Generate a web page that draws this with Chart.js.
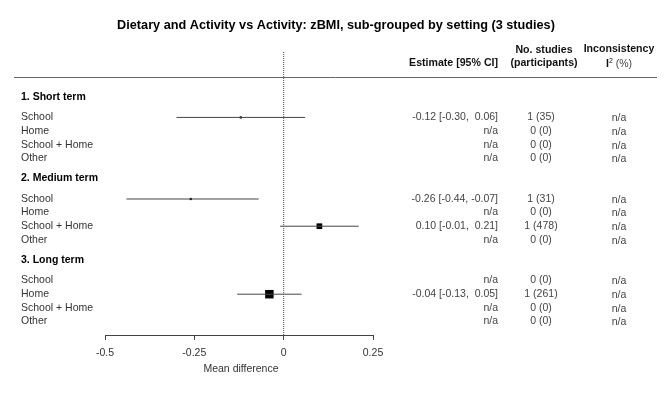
<!DOCTYPE html>
<html>
<head>
<meta charset="utf-8">
<script src="https://cdn.jsdelivr.net/npm/chart.js@4/dist/chart.umd.min.js"></script>
<style>
html,body{margin:0;padding:0;background:#fff;}
</style>
</head>
<body>
<canvas id="forest" width="672" height="399"></canvas>
<script>
const groups = ["1. Short term","2. Medium term","3. Long term"];
const settings = ["School","Home","School + Home","Other"];
// per group, per setting (null = no study)
const estimate = [[-0.12,null,null,null],[-0.26,null,0.10,null],[null,-0.04,null,null]];
const lower = [[-0.30,null,null,null],[-0.44,null,-0.01,null],[null,-0.13,null,null]];
const upper = [[0.06,null,null,null],[-0.07,null,0.21,null],[null,0.05,null,null]];
const studies = [[1,0,0,0],[1,0,1,0],[0,1,0,0]];
const participants = [[35,0,0,0],[31,0,478,0],[0,261,0,0]];
const xTicks = [-0.5,-0.25,0,0.25];

const FONT = '"Liberation Sans", Arial, sans-serif';

function headerRow(g){ return g*6; }
function dataRow(g,s){ return g*6 + 1.5 + s; }

function pad(v){
  return v < 0 ? v.toFixed(2) : " " + v.toFixed(2);
}

/* CI segments + squares */
let ciPoints = [];
let sqPoints = [];
let weights = [];
groups.forEach(function(gName,g){
  settings.forEach(function(sName,s){
    if(estimate[g][s] === null) return;
    let r = dataRow(g,s);
    ciPoints.push({x:lower[g][s],y:r},{x:upper[g][s],y:r},{x:0,y:null});
    let se = (upper[g][s]-lower[g][s])/3.92;
    weights.push(1/(se*se));
    sqPoints.push({x:estimate[g][s],y:r});
  });
});
let wMax = Math.max.apply(null,weights);
let sqRadius = weights.map(function(w){
  let side = Math.max(2.2, 8.5*w/wMax);
  return side/Math.SQRT2;
});

const yTop = -3.31, yBottom = 17.5;

const tablePlugin = {
  id:'table',
  afterDraw(chart){
    const ctx = chart.ctx;
    const ys = chart.scales.y;
    ctx.save();
    ctx.textBaseline = 'middle';

    // title
    ctx.fillStyle = '#000';
    ctx.font = 'bold 12.7px ' + FONT;
    ctx.textAlign = 'center';
    ctx.fillText("Dietary and Activity vs Activity: zBMI, sub-grouped by setting (3 studies)", 336, 25);

    // column headers
    ctx.font = 'bold 10.6px ' + FONT;
    ctx.fillStyle = '#111';
    ctx.textAlign = 'right';
    ctx.fillText("Estimate [95% CI]", 498, 63);
    ctx.textAlign = 'center';
    ctx.fillText("No. studies", 544, 50);
    ctx.fillText("(participants)", 544, 63);
    ctx.fillText("Inconsistency", 619, 49);
    // I² (%)
    ctx.textAlign = 'left';
    ctx.font = 'bold 10.6px ' + FONT;
    let iw = ctx.measureText("I").width;
    ctx.font = '7px ' + FONT;
    let sw = ctx.measureText("2").width;
    ctx.font = '10.5px ' + FONT;
    let pw = ctx.measureText(" (%)").width;
    let x0 = 619 - (iw+sw+pw)/2;
    ctx.font = 'bold 10.6px ' + FONT;
    ctx.fillText("I", x0, 64);
    ctx.font = '7px ' + FONT;
    ctx.fillText("2", x0+iw, 61);
    ctx.font = '10.5px ' + FONT;
    ctx.fillStyle = '#444';
    ctx.fillText(" (%)", x0+iw+sw, 64);

    // header rule
    ctx.strokeStyle = '#666';
    ctx.lineWidth = 1;
    ctx.beginPath();
    ctx.moveTo(14, 77.5);
    ctx.lineTo(657, 77.5);
    ctx.stroke();

    groups.forEach(function(gName,g){
      ctx.textAlign = 'left';
      ctx.fillStyle = '#000';
      ctx.font = 'bold 10.5px ' + FONT;
      ctx.fillText(gName, 21, ys.getPixelForValue(headerRow(g)));
      settings.forEach(function(sName,s){
        let py = ys.getPixelForValue(dataRow(g,s));
        ctx.font = '10.5px ' + FONT;
        ctx.fillStyle = '#333';
        ctx.textAlign = 'left';
        ctx.fillText(sName, 21, py);
        let est = estimate[g][s];
        ctx.textAlign = 'right';
        ctx.fillStyle = '#444';
        if(est === null){
          ctx.fillText("n/a", 498, py);
        } else {
          ctx.fillText(est.toFixed(2) + " [" + pad(lower[g][s]) + ", " + pad(upper[g][s]) + "]", 498, py);
        }
        ctx.textAlign = 'center';
        ctx.fillText(studies[g][s] + " (" + participants[g][s] + ")", 541, py);
        ctx.fillText("n/a", 619, py+1);
      });
    });

    // axis title
    ctx.textAlign = 'center';
    ctx.fillStyle = '#333';
    ctx.font = '10.5px ' + FONT;
    ctx.fillText("Mean difference", 241, 369);
    ctx.restore();
  }
};

new Chart(document.getElementById('forest'),{
  type:'scatter',
  data:{
    datasets:[
      {
        data:[{x:0,y:yTop},{x:0,y:yBottom}],
        showLine:true,
        borderColor:'#555',
        borderWidth:1,
        borderDash:[1,1],
        pointRadius:0
      },
      {
        data:ciPoints,
        showLine:true,
        spanGaps:false,
        borderColor:'#444',
        borderWidth:1,
        pointRadius:0
      },
      {
        data:sqPoints,
        pointStyle:'rect',
        pointRadius:sqRadius,
        backgroundColor:'#000',
        borderWidth:0
      }
    ]
  },
  plugins:[tablePlugin],
  options:{
    responsive:false,
    animation:false,
    layout:{padding:{top:52,left:105,right:299,bottom:24}},
    plugins:{legend:{display:false},tooltip:{enabled:false}},
    scales:{
      x:{
        type:'linear',
        min:xTicks[0],
        max:xTicks[xTicks.length-1],
        afterBuildTicks:function(axis){
          axis.ticks = xTicks.map(function(v){ return {value:v}; });
        },
        afterFit:function(axis){ axis.height = 40; },
        grid:{drawOnChartArea:false,tickLength:5,color:'#444'},
        border:{color:'#444'},
        ticks:{
          padding:7,
          color:'#333',
          font:{family:FONT,size:10.5},
          callback:function(v){ return String(v); }
        }
      },
      y:{
        type:'linear',
        display:false,
        reverse:true,
        min:yTop,
        max:yBottom
      }
    }
  }
});
</script>
</body>
</html>
